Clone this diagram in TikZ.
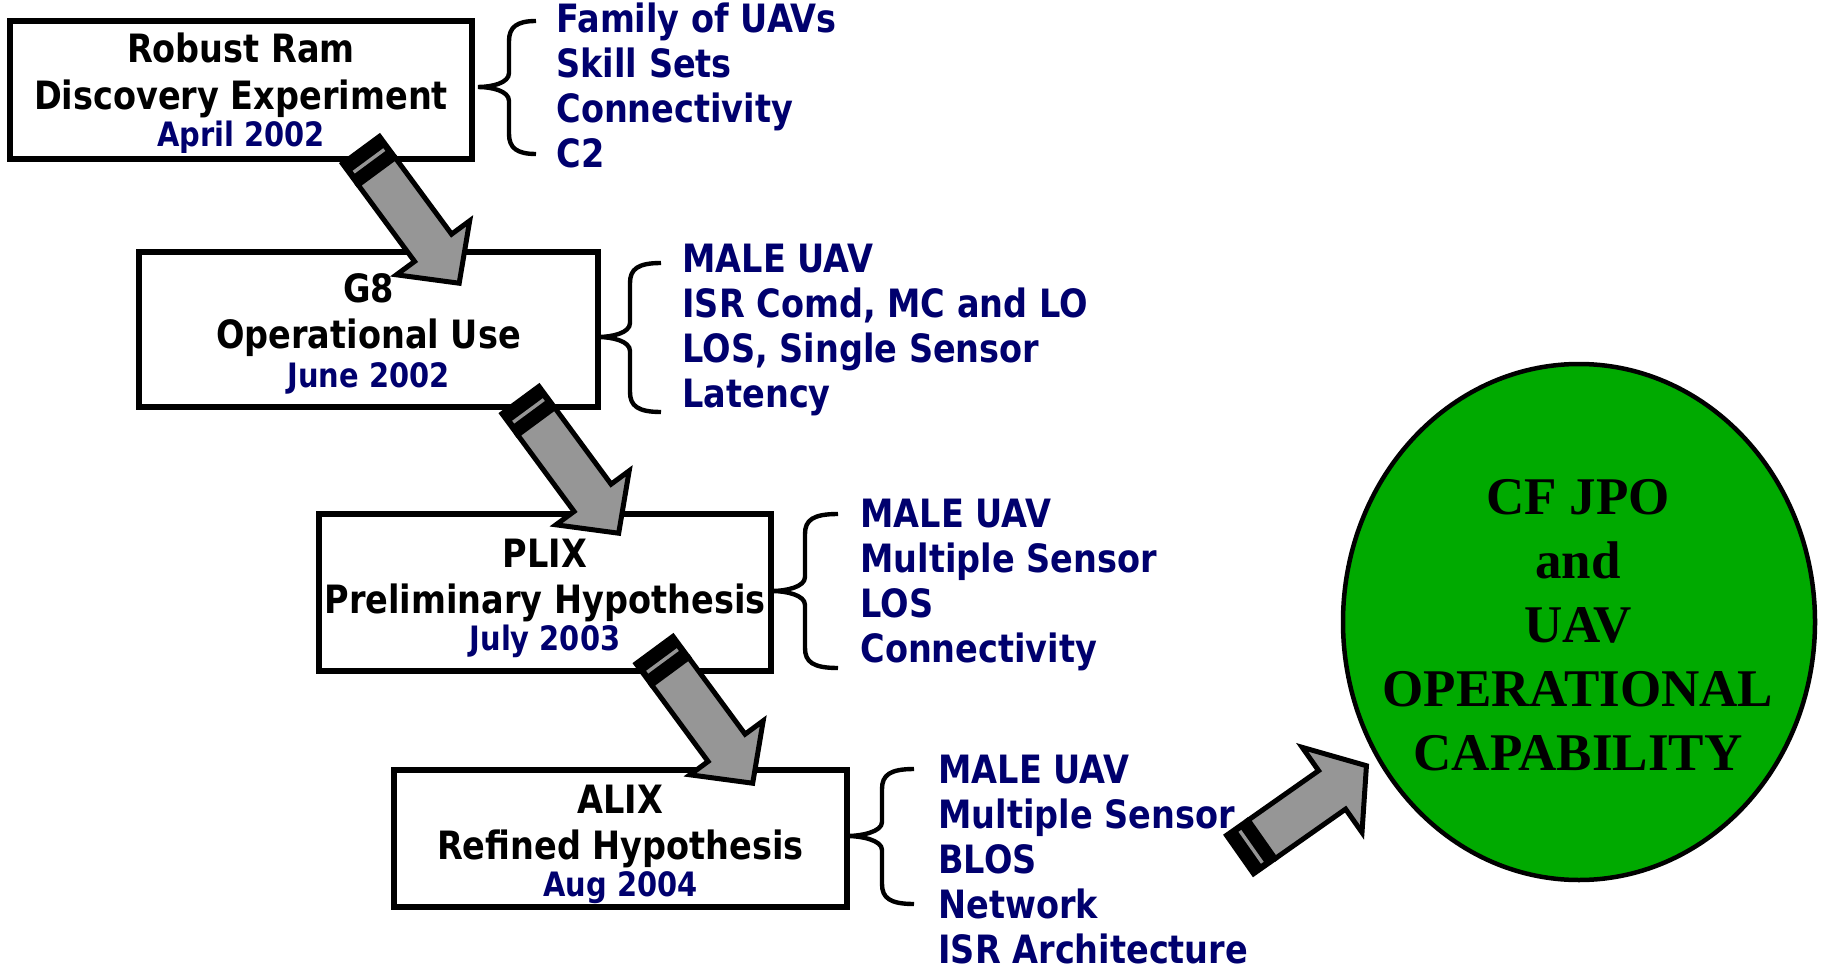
\documentclass[tikz,border=0pt]{standalone}
\usepackage{fontspec}
\newfontfamily\lblfont[FakeStretch=0.86]{DejaVu Sans}
\newfontfamily\capfont{Liberation Serif}
\usetikzlibrary{shapes.geometric}

\definecolor{navytext}{RGB}{0,0,110}
\definecolor{arrowgray}{RGB}{150,150,150}
\definecolor{capgreen}{RGB}{0,170,0}

\tikzset{
  stagebox/.style={draw, line width=2.75pt, rectangle, fill=white, inner sep=0pt, outer sep=0pt},
  titletext/.style={font=\lblfont\bfseries\fontsize{19.5pt}{21pt}\selectfont, anchor=base, inner sep=0pt},
  datetext/.style={font=\lblfont\bfseries\fontsize{16.8pt}{18pt}\selectfont, text=navytext, anchor=base, inner sep=0pt},
  itemtext/.style={font=\lblfont\bfseries\fontsize{19.5pt}{21pt}\selectfont, text=navytext, anchor=base west, inner sep=0pt},
  bracestyle/.style={draw, line width=2.2pt, line cap=butt},
  arrowbody/.style={fill=arrowgray, draw=black, line width=2.5pt, line join=miter},
  arrowstripe/.style={draw=arrowgray, line width=1.7pt},
  goal/.style={ellipse, draw, line width=2.25pt, fill=capgreen, inner sep=0pt},
  goaltext/.style={font=\capfont\bfseries\fontsize{26.5pt}{30pt}\selectfont, anchor=base, inner sep=0pt},
  % striped block arrow along +x: length / shaft width / head width / head length
  pics/stripedarrow/.style args={#1/#2/#3/#4}{code={
    \fill[black] (0,{-#2/2-2.5}) rectangle (31,{#2/2+2.5});
    \draw[arrowbody] (29,{-#2/2}) -- ({#1-#4},{-#2/2}) -- ({#1-#4},{-#3/2}) -- (#1,0)
      -- ({#1-#4},{#3/2}) -- ({#1-#4},{#2/2}) -- (29,{#2/2}) -- cycle;
    \draw[arrowstripe] (16,{-#2/2+4}) -- (16,{#2/2-4});
  }},
}

% curly brace: tip x, spine x, end x, top y, middle y, bottom y (y measured downward)
\newcommand\curly[6]{%
  \draw[bracestyle] (#3,-#4) .. controls ({#2+8},-#4) and (#2,{-#4-6}) .. (#2,{-#4-20})
    -- (#2,{-#5+14}) .. controls (#2,{-#5+4}) and ({#1+14},-#5) .. (#1,-#5)
    .. controls ({#1+14},-#5) and (#2,{-#5-4}) .. (#2,{-#5-14})
    -- (#2,{-#6+20}) .. controls (#2,{-#6+6}) and ({#2+8},-#6) .. (#3,-#6);}

\begin{document}
\begin{tikzpicture}[x=0.5pt,y=0.5pt]
\useasboundingbox (0,0) rectangle (1826,-973);

% stage boxes
\node[stagebox, minimum width=231pt, minimum height=69pt] (b1) at (241,-90) {};
\node[stagebox, minimum width=229.5pt, minimum height=77.5pt] (b2) at (368.5,-329.5) {};
\node[stagebox, minimum width=226pt, minimum height=78.5pt] (b3) at (545,-592.5) {};
\node[stagebox, minimum width=226.5pt, minimum height=68.5pt] (b4) at (620.5,-838.5) {};

% box labels
\node[titletext] (b1a) at (241,-63) {Robust Ram};
\node[titletext] (b1b) at (241,-110) {Discovery Experiment};
\node[datetext]  (b1c) at (241,-147) {April 2002};

\node[titletext] (b2a) at (368.5,-303) {G8};
\node[titletext] (b2b) at (368.5,-349) {Operational Use};
\node[datetext]  (b2c) at (368.5,-387) {June 2002};

\node[titletext] (b3a) at (545,-567) {PLIX};
\node[titletext] (b3b) at (545,-613) {Preliminary Hypothesis};
\node[datetext]  (b3c) at (545,-650) {July 2003};

\node[titletext] (b4a) at (620.5,-813) {ALIX};
\node[titletext] (b4b) at (620.5,-859) {Refined Hypothesis};
\node[datetext]  (b4c) at (620.5,-896) {Aug 2004};

% braces
\curly{478}{509}{536}{21}{87}{154}
\curly{598}{630}{661}{263}{337}{412}
\curly{772}{805}{838}{514}{591}{668}
\curly{847}{882}{914}{769}{836}{904}

% item lists
\node[itemtext] (l1a) at (556,-33) {Family of UAVs};
\node[itemtext] (l1b) at (556,-78) {Skill Sets};
\node[itemtext] (l1c) at (556,-123) {Connectivity};
\node[itemtext] (l1d) at (556,-168) {C2};

\node[itemtext] (l2a) at (682,-273) {MALE UAV};
\node[itemtext] (l2b) at (682,-318) {ISR Comd, MC and LO};
\node[itemtext] (l2c) at (682,-363) {LOS, Single Sensor};
\node[itemtext] (l2d) at (682,-408) {Latency};

\node[itemtext] (l3a) at (860,-527) {MALE UAV};
\node[itemtext] (l3b) at (860,-572) {Multiple Sensor};
\node[itemtext] (l3c) at (860,-617) {LOS};
\node[itemtext] (l3d) at (860,-662) {Connectivity};

\node[itemtext] (l4a) at (938,-783) {MALE UAV};
\node[itemtext] (l4b) at (938,-828) {Multiple Sensor};
\node[itemtext] (l4c) at (938,-873) {BLOS};
\node[itemtext] (l4d) at (938,-918) {Network};
\node[itemtext] (l4e) at (938,-963) {ISR Architecture};

% capability goal
\node[goal, minimum width=236pt, minimum height=258pt] (goal) at (1579,-622) {};
\node[goaltext] (g1) at (1578,-514) {CF JPO};
\node[goaltext] (g2) at (1578,-578) {and};
\node[goaltext] (g3) at (1578,-642) {UAV};
\node[goaltext] (g4) at (1578,-706) {OPERATIONAL};
\node[goaltext] (g5) at (1578,-770) {CAPABILITY};

% progression arrows
\coordinate (a1) at (359.5,-148);
\coordinate (a2) at (519,-398);
\coordinate (a3) at (653,-648);
\coordinate (a4) at (1238,-856);
\pic[rotate=-53.6] at (a1) {stripedarrow={168/46/91/44}};
\pic[rotate=-53.6] at (a2) {stripedarrow={168/46/91/44}};
\pic[rotate=-53.6] at (a3) {stripedarrow={168/46/91/44}};
\pic[rotate=35.1] at (a4) {stripedarrow={157/47/104/42}};
\end{tikzpicture}
\end{document}
